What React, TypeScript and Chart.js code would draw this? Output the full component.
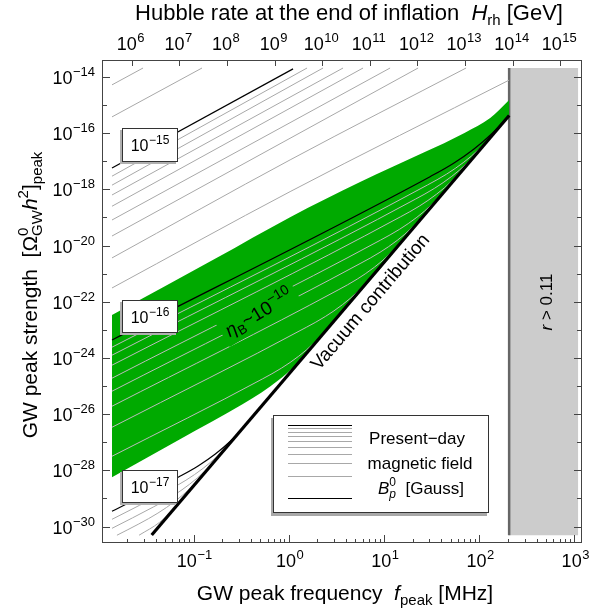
import React, { useEffect, useRef } from 'react';
import { Chart, registerables } from 'chart.js';

Chart.register(...registerables);

const FONT = '"Liberation Sans", Arial, Helvetica, sans-serif';

// ---- axis ranges ----
const fMin = 0.01094;
const fMax = 1199;
const omegaMin = 2.59e-31;
const omegaMax = 4.03e-14;
const hMin = 2.38e5;
const hMax = 2.86e15;

// ---- tick labels (exponents of 10) ----
const hTickExps = [6, 7, 8, 9, 10, 11, 12, 13, 14, 15];
const fLabelExps = [-1, 0, 1, 2, 3];
const omegaLabelExps = [-14, -16, -18, -20, -22, -24, -26, -28, -30];

// ---- excluded region r > 0.11 ----
const rBandF = [206, 1090];
const rBandOmega = [4.9e-31, 2.09e-14];

// ---- curves, read as [log10 f/MHz, log10 Omega h^2] ----
const vacuum = [[-1.439, -30.30], [2.314, -15.37]];

// eta_B ~ 1e-10 band
const greenTopEdge = [[-1.856, -22.47], [-0.774, -20.47], [0.014, -18.99], [0.749, -17.74], [1.411, -16.70], [1.85, -15.98], [2.115, -15.46], [2.314, -14.82]];
const greenLowerEdge = [[-1.856, -28.248], [-1.142, -26.890], [-0.486, -25.647], [-0.286, -25.234], [-0.106, -24.789], [0.056, -24.312], [0.196, -23.806], [2.314, -15.37]];

// present-day field 2e-16 .. 3e-15 G (upper family)
const upperGray = [
  [[-1.856, -14.28], [-1.530, -13.68]],
  [[-1.856, -15.42], [-0.911, -13.68]],
  [[-1.856, -17.53], [0.192, -13.68]],
  [[-1.856, -17.85], [0.360, -13.68]],
  [[-1.856, -18.20], [0.570, -13.68]],
  [[-1.856, -18.60], [0.780, -13.68]],
  [[-1.856, -19.09], [1.064, -13.68]],
  [[-1.856, -19.66], [1.358, -13.68]],
  [[-1.856, -20.44], [0.014, -16.95], [1.862, -13.68]],
  [[-1.856, -21.51], [0.014, -18.08], [2.314, -14.11]],
];
const upperBlack = [[-1.856, -17.24], [0.045, -13.71]];

// 1e-16 G and 2e-17 .. 9e-17 G (inside the green band)
const midBlack = [[-1.856, -23.36], [1.488, -17.539], [1.727, -17.077], [1.945, -16.561], [2.140, -15.992], [2.314, -15.37]];
const midGray = [
  [[-1.856, -23.617], [1.457, -17.842], [1.657, -17.457], [1.838, -17.032], [1.998, -16.568], [2.140, -16.065]],
  [[-1.856, -23.902], [1.330, -18.347], [1.530, -17.962], [1.711, -17.537], [1.871, -17.073], [2.013, -16.570]],
  [[-1.856, -24.258], [1.171, -18.980], [1.371, -18.595], [1.552, -18.170], [1.712, -17.706], [1.854, -17.203]],
  [[-1.856, -24.721], [0.964, -19.804], [1.164, -19.419], [1.345, -18.994], [1.505, -18.530], [1.647, -18.027]],
  [[-1.856, -25.184], [0.758, -20.624], [0.958, -20.239], [1.139, -19.814], [1.299, -19.350], [1.441, -18.847]],
  [[-1.856, -25.719], [0.518, -21.580], [0.718, -21.195], [0.899, -20.770], [1.059, -20.306], [1.201, -19.803]],
  [[-1.856, -26.467], [0.184, -22.910], [0.384, -22.525], [0.565, -22.100], [0.725, -21.636], [0.867, -21.133]],
  [[-1.856, -27.500], [-0.277, -24.748], [-0.077, -24.363], [0.104, -23.938], [0.264, -23.474], [0.406, -22.971]],
];

// 1e-17 G and 6e-18 .. 9e-18 G
const lowBlack = [[-1.856, -29.459], [-1.152, -28.228], [-0.952, -27.843], [-0.771, -27.418], [-0.611, -26.954], [-0.469, -26.451]];
const lowGray = [
  [[-1.856, -29.744], [-1.280, -28.738], [-1.080, -28.353], [-0.899, -27.928], [-0.739, -27.464], [-0.597, -26.961]],
  [[-1.856, -30.064], [-1.423, -29.307], [-1.223, -28.922], [-1.042, -28.497], [-0.882, -28.033], [-0.740, -27.530]],
  [[-1.804, -30.31], [-1.574, -29.908], [-1.374, -29.523], [-1.193, -29.098], [-1.033, -28.634], [-0.891, -28.131]],
  [[-1.572, -30.31], [-1.356, -29.850], [-1.179, -29.278]],
];

// legend sample line positions (0 = top black line, 1 = bottom black line)
const legendGrayFractions = [0.046, 0.097, 0.155, 0.221, 0.301, 0.398, 0.523, 0.699];

const toPts = (arr: number[][]) => arr.map(([a, b]) => ({ x: Math.pow(10, a), y: Math.pow(10, b) }));

type Part = { t: string; size: number; italic?: boolean; dy?: number; dx?: number; noAdvance?: boolean };

function setFont(ctx: CanvasRenderingContext2D, p: Part) {
  ctx.font = `${p.italic ? 'italic ' : ''}${p.size}px ${FONT}`;
}
function richWidth(ctx: CanvasRenderingContext2D, parts: Part[]) {
  let w = 0;
  for (const p of parts) {
    setFont(ctx, p);
    if (!p.noAdvance) w += ctx.measureText(p.t).width + (p.dx || 0);
  }
  return w;
}
function drawRich(ctx: CanvasRenderingContext2D, parts: Part[], x: number, y: number, align: 'left' | 'center' | 'right') {
  const w = richWidth(ctx, parts);
  let cx = align === 'center' ? x - w / 2 : align === 'right' ? x - w : x;
  ctx.textAlign = 'left';
  ctx.textBaseline = 'alphabetic';
  for (const p of parts) {
    setFont(ctx, p);
    ctx.fillText(p.t, cx + (p.dx || 0), y + (p.dy || 0));
    if (!p.noAdvance) cx += ctx.measureText(p.t).width + (p.dx || 0);
  }
}
const pow10 = (e: number, base = 18, sup = 13, raise = 8): Part[] => [
  { t: '10', size: base },
  { t: String(e).replace('-', '\u2212'), size: sup, dy: -raise, dx: 0.5 },
];

function labelBox(ctx: CanvasRenderingContext2D, x0: number, y0: number, x1: number, y1: number) {
  ctx.fillStyle = '#b0b0b0';
  ctx.fillRect(x0 - 2, y0 + 2, x1 - x0, y1 - y0);
  ctx.fillStyle = '#ffffff';
  ctx.fillRect(x0, y0, x1 - x0, y1 - y0);
  ctx.strokeStyle = '#333';
  ctx.lineWidth = 1;
  ctx.strokeRect(x0 + 0.5, y0 + 0.5, x1 - x0 - 1, y1 - y0 - 1);
}

const overlay = {
  id: 'overlay',
  afterDatasetsDraw(chart: any) {
    const ctx: CanvasRenderingContext2D = chart.ctx;
    const xs = chart.scales.x;
    const ys = chart.scales.y;
    const x2 = chart.scales.x2;
    const { left, right, top, bottom } = chart.chartArea;
    ctx.save();

    // annotation boxes
    const boxes = [
      { y0: 128, y1: 162, e: -15 },
      { y0: 300, y1: 333, e: -16 },
      { y0: 470, y1: 503, e: -17 },
    ];
    for (const b of boxes) {
      labelBox(ctx, 122, b.y0, 178, b.y1);
      ctx.fillStyle = '#000';
      drawRich(ctx, pow10(b.e, 16, 12, 7), 150, (b.y0 + b.y1) / 2 + 6, 'center');
    }

    // eta_B label (on a green patch)
    ctx.save();
    ctx.translate(259, 313);
    ctx.rotate((-31 * Math.PI) / 180);
    const etaParts: Part[] = [
      { t: '\u03b7', size: 19, italic: true },
      { t: 'B', size: 13, dy: 4 },
      { t: '~', size: 19 },
      { t: '10', size: 19 },
      { t: '\u221210', size: 14, dy: -8 },
    ];
    const ew = richWidth(ctx, etaParts);
    ctx.fillStyle = '#00aa00';
    ctx.fillRect(-ew / 2 - 5, -14, ew + 10, 28);
    ctx.fillStyle = '#000';
    drawRich(ctx, etaParts, 0, 6, 'center');
    ctx.restore();

    // Vacuum contribution
    ctx.save();
    ctx.translate(319, 371);
    ctx.rotate(-Math.atan(1.174));
    ctx.fillStyle = '#000';
    ctx.font = `19px ${FONT}`;
    ctx.textAlign = 'left';
    ctx.textBaseline = 'alphabetic';
    ctx.fillText('Vacuum contribution', 0, 0);
    ctx.restore();

    // r > 0.11
    ctx.save();
    ctx.translate(546, 302);
    ctx.rotate(-Math.PI / 2);
    ctx.fillStyle = '#000';
    drawRich(ctx, [{ t: 'r', size: 17, italic: true }, { t: ' > 0.11', size: 17 }], 0, 6, 'center');
    ctx.restore();

    // legend
    const lx0 = 273, ly0 = 415, lx1 = 489, ly1 = 513;
    ctx.fillStyle = '#a8a8a8';
    ctx.fillRect(lx0 - 2, ly0 + 3, lx1 - lx0, ly1 - ly0);
    ctx.fillStyle = '#fff';
    ctx.fillRect(lx0, ly0, lx1 - lx0, ly1 - ly0);
    ctx.strokeStyle = '#333';
    ctx.lineWidth = 1;
    ctx.strokeRect(lx0 + 0.5, ly0 + 0.5, lx1 - lx0 - 1, ly1 - ly0 - 1);
    const sy0 = 425, sy1 = 498;
    const seg = (y: number, c: string, w: number) => {
      ctx.strokeStyle = c;
      ctx.lineWidth = w;
      ctx.beginPath();
      ctx.moveTo(288, Math.round(y) + 0.5);
      ctx.lineTo(352, Math.round(y) + 0.5);
      ctx.stroke();
    };
    for (const fr of legendGrayFractions) seg(sy0 + fr * (sy1 - sy0), '#a8a8a8', 1);
    seg(sy0, '#000', 1.2);
    seg(sy1, '#000', 1.2);
    ctx.fillStyle = '#000';
    drawRich(ctx, [{ t: 'Present\u2212day', size: 17 }], 417, 444, 'center');
    drawRich(ctx, [{ t: 'magnetic field', size: 17 }], 420, 469, 'center');
    drawRich(ctx, [
      { t: 'B', size: 17, italic: true },
      { t: '0', size: 12, dy: -8, noAdvance: true },
      { t: 'p', size: 12, italic: true, dy: 4 },
      { t: '  [Gauss]', size: 17 },
    ], 421, 494, 'center');

    // frame
    ctx.strokeStyle = '#444';
    ctx.lineWidth = 1;
    ctx.strokeRect(left + 0.5, top + 0.5, right - left - 1, bottom - top - 1);

    const tick = (x0: number, y0: number, x1: number, y1: number) => {
      ctx.beginPath();
      ctx.moveTo(x0, y0);
      ctx.lineTo(x1, y1);
      ctx.stroke();
    };
    for (let e = -2; e <= 3; e++) {
      for (let m = 1; m < 10; m++) {
        const v = m * Math.pow(10, e);
        if (v < fMin || v > fMax) continue;
        const px = Math.round(xs.getPixelForValue(v)) + 0.5;
        tick(px, bottom, px, bottom - (m === 1 ? 8 : 4));
      }
    }
    for (const h of hTickExps) {
      const px = Math.round(x2.getPixelForValue(Math.pow(10, h))) + 0.5;
      tick(px, top, px, top + 6);
    }
    for (let e = -31; e <= -13; e++) {
      const v = Math.pow(10, e);
      if (v < omegaMin || v > omegaMax) continue;
      const py = Math.round(ys.getPixelForValue(v)) + 0.5;
      const len = e % 2 === 0 ? 8 : 5;
      tick(left, py, left + len, py);
      tick(right, py, right - len, py);
    }

    // tick labels
    ctx.fillStyle = '#000';
    for (const e of fLabelExps) {
      const px = xs.getPixelForValue(Math.pow(10, e));
      drawRich(ctx, pow10(e), px + 1, 567, 'center');
    }
    for (const e of omegaLabelExps) {
      const py = ys.getPixelForValue(Math.pow(10, e));
      drawRich(ctx, pow10(e), 95, py + 7, 'right');
    }
    for (const h of hTickExps) {
      const px = x2.getPixelForValue(Math.pow(10, h));
      drawRich(ctx, pow10(h), px - 1, 50, 'center');
    }

    // axis titles
    drawRich(ctx, [
      { t: 'GW peak frequency  ', size: 21 },
      { t: 'f', size: 21, italic: true },
      { t: 'peak', size: 15, dy: 5 },
      { t: ' [MHz]', size: 21 },
    ], 345, 600, 'center');
    drawRich(ctx, [
      { t: 'Hubble rate at the end of inflation  ', size: 22 },
      { t: 'H', size: 22, italic: true },
      { t: 'rh', size: 15, dy: 5 },
      { t: ' [GeV]', size: 22 },
    ], 349, 20, 'center');
    ctx.save();
    ctx.translate(37, 295);
    ctx.rotate(-Math.PI / 2);
    drawRich(ctx, [
      { t: 'GW peak strength  [\u03a9', size: 21 },
      { t: '0', size: 15, dy: -9, noAdvance: true },
      { t: 'GW', size: 15, dy: 5 },
      { t: 'h', size: 21, italic: true },
      { t: '2', size: 15, dy: -9 },
      { t: ']', size: 21 },
      { t: 'peak', size: 15, dy: 5 },
    ], 0, 0, 'center');
    ctx.restore();

    ctx.restore();
  },
};

export default function App() {
  const ref = useRef<HTMLCanvasElement | null>(null);
  useEffect(() => {
    const canvas = ref.current;
    if (!canvas) return;
    const line = (arr: number[][], color: string, width: number, order: number) => ({
      data: toPts(arr),
      borderColor: color,
      borderWidth: width,
      pointRadius: 0,
      showLine: true,
      fill: false,
      cubicInterpolationMode: 'monotone' as const,
      order,
    });
    const rect = [
      [Math.log10(rBandF[0]), Math.log10(rBandOmega[0])],
      [Math.log10(rBandF[1]), Math.log10(rBandOmega[0])],
      [Math.log10(rBandF[1]), Math.log10(rBandOmega[1])],
      [Math.log10(rBandF[0]), Math.log10(rBandOmega[1])],
      [Math.log10(rBandF[0]), Math.log10(rBandOmega[0])],
    ];
    const datasets: any[] = [
      {
        data: toPts(rect),
        showLine: true,
        borderWidth: 0,
        borderColor: 'rgba(0,0,0,0)',
        backgroundColor: '#cccccc',
        fill: 'shape',
        pointRadius: 0,
        order: 200,
      },
      {
        data: toPts([[Math.log10(rBandF[0]), Math.log10(rBandOmega[0])], [Math.log10(rBandF[0]), Math.log10(rBandOmega[1])]]),
        showLine: true,
        borderWidth: 2.5,
        borderColor: '#666666',
        pointRadius: 0,
        fill: false,
        order: 199,
      },
      {
        // upper edge of the green band, filled down to dataset 3
        data: toPts(greenTopEdge),
        showLine: true,
        borderWidth: 0,
        borderColor: 'rgba(0,0,0,0)',
        backgroundColor: '#00aa00',
        fill: 3,
        pointRadius: 0,
        cubicInterpolationMode: 'monotone',
        order: 100,
      },
      {
        data: toPts(greenLowerEdge),
        showLine: true,
        borderWidth: 0,
        borderColor: 'rgba(0,0,0,0)',
        fill: false,
        pointRadius: 0,
        cubicInterpolationMode: 'monotone',
        order: 101,
      },
      ...upperGray.map((a) => line(a, '#a8a8a8', 1, 50)),
      ...midGray.map((a) => line(a, '#bcbcbc', 1, 50)),
      ...lowGray.map((a) => line(a, '#a8a8a8', 1, 50)),
      line(upperBlack, '#000', 1.2, 10),
      line(midBlack, '#000', 1.2, 10),
      line(lowBlack, '#000', 1.2, 10),
      line(vacuum, '#000', 3.2, 1),
    ];
    const chart = new Chart(canvas, {
      type: 'scatter',
      data: { datasets },
      options: {
        animation: false,
        responsive: false,
        devicePixelRatio: 1,
        layout: { padding: { left: 102, right: 8, top: 60, bottom: 67 } },
        plugins: { legend: { display: false }, tooltip: { enabled: false } },
        events: [],
        scales: {
          x: { type: 'logarithmic', min: fMin, max: fMax, display: false },
          y: { type: 'logarithmic', min: omegaMin, max: omegaMax, display: false },
          x2: { type: 'logarithmic', axis: 'x', position: 'top', min: hMin, max: hMax, display: false },
        },
      },
      plugins: [overlay],
    } as any);
    return () => chart.destroy();
  }, []);
  return (
    <div style={{ position: 'fixed', left: 0, top: 0, width: 590, height: 610, background: '#fff' }}>
      <canvas ref={ref} width={590} height={610} style={{ width: 590, height: 610, display: 'block' }} />
    </div>
  );
}
